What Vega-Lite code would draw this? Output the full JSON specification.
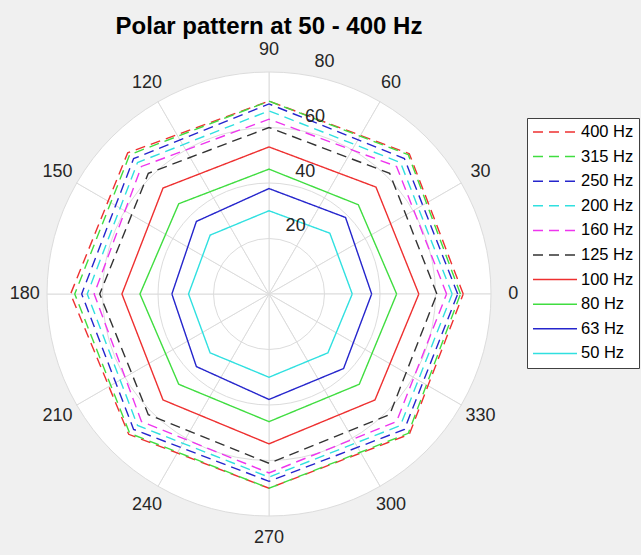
{
  "$schema": "https://vega.github.io/schema/vega-lite/v6.json",
  "width": 444,
  "height": 444,
  "autosize": {"type": "none"},
  "padding": {"left": 47, "top": 72, "right": 150, "bottom": 39},
  "background": "#f0f0f0",
  "config": {"view": {"stroke": null}, "font": "Liberation Sans"},
  "title": {"text": "Polar pattern at 50 - 400 Hz", "fontSize": 24, "fontWeight": "bold", "color": "#000000", "anchor": "middle", "frame": "group", "baseline": "alphabetic", "offset": -17},
  "resolve": {"scale": {"theta": "independent"}},
  "layer": [
    {
      "data": {"values": [{"spoke": 0}, {"spoke": 30}, {"spoke": 60}, {"spoke": 90}, {"spoke": 120}, {"spoke": 150}, {"spoke": 180}, {"spoke": 210}, {"spoke": 240}, {"spoke": 270}, {"spoke": 300}, {"spoke": 330}]},
      "mark": {"type": "arc", "fill": "#ffffff", "stroke": "#dcdcdc", "strokeWidth": 1},
      "encoding": {
        "theta": {"aggregate": "count", "type": "quantitative", "stack": true},
        "detail": {"field": "spoke", "type": "nominal"},
        "radius": {"datum": 80, "type": "quantitative", "scale": {"type": "linear", "domain": [0, 80], "range": [0, 222], "zero": true, "nice": false}}
      }
    },
    {
      "data": {"values": [{"ring": 20}, {"ring": 40}, {"ring": 60}]},
      "mark": {"type": "point", "shape": "circle", "filled": false, "stroke": "#dcdcdc", "strokeWidth": 1, "opacity": 1},
      "encoding": {
        "x": {"datum": 0, "type": "quantitative", "scale": {"domain": [-80, 80], "nice": false, "zero": false}, "axis": null},
        "y": {"datum": 0, "type": "quantitative", "scale": {"domain": [-80, 80], "nice": false, "zero": false}, "axis": null},
        "size": {"field": "ring", "type": "quantitative", "scale": {"type": "pow", "exponent": 2, "domain": [0, 80], "range": [0, 197136], "zero": true, "nice": false}, "legend": null}
      }
    },
    {
      "data": {"values": [
        {"freq": "400 Hz", "angle": 0, "r": 70}, {"freq": "400 Hz", "angle": 45, "r": 71.5}, {"freq": "400 Hz", "angle": 90, "r": 69.5}, {"freq": "400 Hz", "angle": 135, "r": 72}, {"freq": "400 Hz", "angle": 180, "r": 71.5}, {"freq": "400 Hz", "angle": 225, "r": 71.5}, {"freq": "400 Hz", "angle": 270, "r": 70}, {"freq": "400 Hz", "angle": 315, "r": 71.5}, {"freq": "400 Hz", "angle": 360, "r": 70},
        {"freq": "315 Hz", "angle": 0, "r": 69}, {"freq": "315 Hz", "angle": 45, "r": 71}, {"freq": "315 Hz", "angle": 90, "r": 69.5}, {"freq": "315 Hz", "angle": 135, "r": 71}, {"freq": "315 Hz", "angle": 180, "r": 70}, {"freq": "315 Hz", "angle": 225, "r": 71}, {"freq": "315 Hz", "angle": 270, "r": 70}, {"freq": "315 Hz", "angle": 315, "r": 71}, {"freq": "315 Hz", "angle": 360, "r": 69},
        {"freq": "250 Hz", "angle": 0, "r": 68}, {"freq": "250 Hz", "angle": 45, "r": 69}, {"freq": "250 Hz", "angle": 90, "r": 68.5}, {"freq": "250 Hz", "angle": 135, "r": 69}, {"freq": "250 Hz", "angle": 180, "r": 67.5}, {"freq": "250 Hz", "angle": 225, "r": 69}, {"freq": "250 Hz", "angle": 270, "r": 67.5}, {"freq": "250 Hz", "angle": 315, "r": 69}, {"freq": "250 Hz", "angle": 360, "r": 68},
        {"freq": "200 Hz", "angle": 0, "r": 66}, {"freq": "200 Hz", "angle": 45, "r": 67}, {"freq": "200 Hz", "angle": 90, "r": 66}, {"freq": "200 Hz", "angle": 135, "r": 67}, {"freq": "200 Hz", "angle": 180, "r": 65.5}, {"freq": "200 Hz", "angle": 225, "r": 67}, {"freq": "200 Hz", "angle": 270, "r": 66}, {"freq": "200 Hz", "angle": 315, "r": 67}, {"freq": "200 Hz", "angle": 360, "r": 66},
        {"freq": "160 Hz", "angle": 0, "r": 64}, {"freq": "160 Hz", "angle": 45, "r": 65}, {"freq": "160 Hz", "angle": 90, "r": 63}, {"freq": "160 Hz", "angle": 135, "r": 65}, {"freq": "160 Hz", "angle": 180, "r": 63}, {"freq": "160 Hz", "angle": 225, "r": 65}, {"freq": "160 Hz", "angle": 270, "r": 64.5}, {"freq": "160 Hz", "angle": 315, "r": 65}, {"freq": "160 Hz", "angle": 360, "r": 64},
        {"freq": "125 Hz", "angle": 0, "r": 60.5}, {"freq": "125 Hz", "angle": 45, "r": 61.5}, {"freq": "125 Hz", "angle": 90, "r": 60}, {"freq": "125 Hz", "angle": 135, "r": 61.5}, {"freq": "125 Hz", "angle": 180, "r": 61}, {"freq": "125 Hz", "angle": 225, "r": 61.5}, {"freq": "125 Hz", "angle": 270, "r": 61}, {"freq": "125 Hz", "angle": 315, "r": 61.5}, {"freq": "125 Hz", "angle": 360, "r": 60.5},
        {"freq": "100 Hz", "angle": 0, "r": 54}, {"freq": "100 Hz", "angle": 45, "r": 54.5}, {"freq": "100 Hz", "angle": 90, "r": 53}, {"freq": "100 Hz", "angle": 135, "r": 54}, {"freq": "100 Hz", "angle": 180, "r": 53}, {"freq": "100 Hz", "angle": 225, "r": 54}, {"freq": "100 Hz", "angle": 270, "r": 54}, {"freq": "100 Hz", "angle": 315, "r": 54}, {"freq": "100 Hz", "angle": 360, "r": 54},
        {"freq": "80 Hz", "angle": 0, "r": 46}, {"freq": "80 Hz", "angle": 45, "r": 45.5}, {"freq": "80 Hz", "angle": 90, "r": 45}, {"freq": "80 Hz", "angle": 135, "r": 46}, {"freq": "80 Hz", "angle": 180, "r": 46.5}, {"freq": "80 Hz", "angle": 225, "r": 46}, {"freq": "80 Hz", "angle": 270, "r": 46}, {"freq": "80 Hz", "angle": 315, "r": 46}, {"freq": "80 Hz", "angle": 360, "r": 46},
        {"freq": "63 Hz", "angle": 0, "r": 37}, {"freq": "63 Hz", "angle": 45, "r": 39}, {"freq": "63 Hz", "angle": 90, "r": 38}, {"freq": "63 Hz", "angle": 135, "r": 37}, {"freq": "63 Hz", "angle": 180, "r": 35}, {"freq": "63 Hz", "angle": 225, "r": 37}, {"freq": "63 Hz", "angle": 270, "r": 38}, {"freq": "63 Hz", "angle": 315, "r": 38}, {"freq": "63 Hz", "angle": 360, "r": 37},
        {"freq": "50 Hz", "angle": 0, "r": 30}, {"freq": "50 Hz", "angle": 45, "r": 31}, {"freq": "50 Hz", "angle": 90, "r": 30}, {"freq": "50 Hz", "angle": 135, "r": 30}, {"freq": "50 Hz", "angle": 180, "r": 29}, {"freq": "50 Hz", "angle": 225, "r": 30}, {"freq": "50 Hz", "angle": 270, "r": 30}, {"freq": "50 Hz", "angle": 315, "r": 30}, {"freq": "50 Hz", "angle": 360, "r": 30}
      ]},
      "transform": [
        {"calculate": "datum.r * cos(datum.angle * PI / 180)", "as": "px"},
        {"calculate": "datum.r * sin(datum.angle * PI / 180)", "as": "py"}
      ],
      "mark": {"type": "line", "strokeWidth": 1.4},
      "encoding": {
        "x": {"field": "px", "type": "quantitative", "scale": {"domain": [-80, 80], "nice": false, "zero": false}, "axis": null},
        "y": {"field": "py", "type": "quantitative", "scale": {"domain": [-80, 80], "nice": false, "zero": false}, "axis": null},
        "order": {"field": "angle", "type": "quantitative"},
        "color": {
          "field": "freq", "type": "nominal",
          "scale": {"domain": ["400 Hz", "315 Hz", "250 Hz", "200 Hz", "160 Hz", "125 Hz", "100 Hz", "80 Hz", "63 Hz", "50 Hz"],
                    "range": ["#ee3030", "#40dd40", "#2525cc", "#30e0e0", "#ee35ee", "#333333", "#ee3030", "#40dd40", "#2525cc", "#30e0e0"]},
          "legend": {"title": null, "orient": "none", "legendX": 480, "legendY": 46, "fillColor": "#ffffff", "strokeColor": "#404040", "padding": 5, "symbolType": "stroke", "symbolSize": 1936, "symbolStrokeWidth": 1.5, "labelFontSize": 16.5, "labelFont": "Liberation Sans", "labelColor": "#000000", "clipHeight": 18, "rowPadding": 6.6, "labelOffset": 3, "cornerRadius": 0}
        },
        "strokeDash": {
          "field": "freq", "type": "nominal",
          "scale": {"domain": ["400 Hz", "315 Hz", "250 Hz", "200 Hz", "160 Hz", "125 Hz", "100 Hz", "80 Hz", "63 Hz", "50 Hz"],
                    "range": [[10, 6], [10, 6], [10, 6], [10, 6], [10, 6], [10, 6], [1, 0], [1, 0], [1, 0], [1, 0]]},
          "legend": {"title": null, "orient": "none", "legendX": 480, "legendY": 46, "fillColor": "#ffffff", "strokeColor": "#404040", "padding": 5, "symbolType": "stroke", "symbolSize": 1936, "symbolStrokeWidth": 1.5, "labelFontSize": 16.5, "labelFont": "Liberation Sans", "labelColor": "#000000", "clipHeight": 18, "rowPadding": 6.6, "labelOffset": 3, "cornerRadius": 0}
        }
      }
    },
    {
      "data": {"values": [{"a": 0, "t": "0"}, {"a": 30, "t": "30"}, {"a": 60, "t": "60"}, {"a": 90, "t": "90"}, {"a": 120, "t": "120"}, {"a": 150, "t": "150"}, {"a": 180, "t": "180"}, {"a": 210, "t": "210"}, {"a": 240, "t": "240"}, {"a": 270, "t": "270"}, {"a": 300, "t": "300"}, {"a": 330, "t": "330"}]},
      "mark": {"type": "text", "fontSize": 18, "color": "#262626", "align": "center", "baseline": "middle"},
      "encoding": {
        "theta": {"field": "a", "type": "quantitative", "scale": {"type": "linear", "domain": [90, -270], "range": [0, 6.283185307179586], "zero": false, "nice": false}},
        "radius": {"datum": 88, "type": "quantitative", "scale": {"type": "linear", "domain": [0, 80], "range": [0, 222], "zero": true, "nice": false}},
        "text": {"field": "t", "type": "nominal"}
      }
    },
    {
      "data": {"values": [{"r": 20}, {"r": 40}, {"r": 60}, {"r": 80}]},
      "mark": {"type": "text", "fontSize": 18, "color": "#262626", "align": "center", "baseline": "middle", "dx": 17, "dy": -13},
      "encoding": {
        "theta": {"datum": 80, "type": "quantitative", "scale": {"type": "linear", "domain": [90, -270], "range": [0, 6.283185307179586], "zero": false, "nice": false}},
        "radius": {"field": "r", "type": "quantitative", "scale": {"type": "linear", "domain": [0, 80], "range": [0, 222], "zero": true, "nice": false}},
        "text": {"field": "r", "type": "quantitative"}
      }
    }
  ]
}
